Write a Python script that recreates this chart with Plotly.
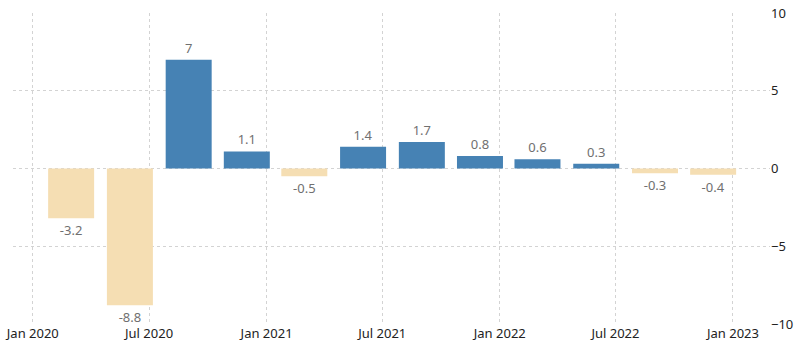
import plotly.graph_objects as go

dates = ["2020-03-01", "2020-06-01", "2020-09-01", "2020-12-01",
         "2021-03-01", "2021-06-01", "2021-09-01", "2021-12-01",
         "2022-03-01", "2022-06-01", "2022-09-01", "2022-12-01"]
values = [-3.2, -8.8, 7, 1.1, -0.5, 1.4, 1.7, 0.8, 0.6, 0.3, -0.3, -0.4]
labels = ["-3.2", "-8.8", "7", "1.1", "-0.5", "1.4", "1.7", "0.8", "0.6", "0.3", "-0.3", "-0.4"]

colors = ["#4682B4" if v >= 0 else "#F5DEB3" for v in values]

fig = go.Figure(go.Bar(
    x=dates, y=values, text=labels, textposition="outside",
    marker=dict(color=colors, line=dict(width=0)),
    width=72 * 86400000,
    textfont=dict(color="#707070", size=13, family="Noto Sans"),
    cliponaxis=False,
))

fig.update_layout(
    width=800, height=352,
    margin=dict(l=13, r=30, t=13, b=28, autoexpand=False),
    plot_bgcolor="white", paper_bgcolor="white",
    showlegend=False,
    font=dict(family="Noto Sans", size=13, color="#222222"),
    xaxis=dict(
        type="date", range=["2019-12-01", "2023-02-28"], automargin=False,
        tick0="2020-01-01", dtick="M6", tickformat="%b %Y",
        showgrid=True, gridcolor="#d3d3d3", griddash="dot", gridwidth=1,
        zeroline=False, showline=False, ticks="",
        tickfont=dict(size=13, color="#222222"),
    ),
    yaxis=dict(
        side="right", range=[-10, 10], tickvals=[-10, -5, 0, 5, 10], automargin=False,
        showgrid=True, gridcolor="#d3d3d3", griddash="dot", gridwidth=1,
        zeroline=False, showline=False, ticks="",
        tickfont=dict(size=13, color="#222222"),
    ),
)

fig.write_html("out.html")
